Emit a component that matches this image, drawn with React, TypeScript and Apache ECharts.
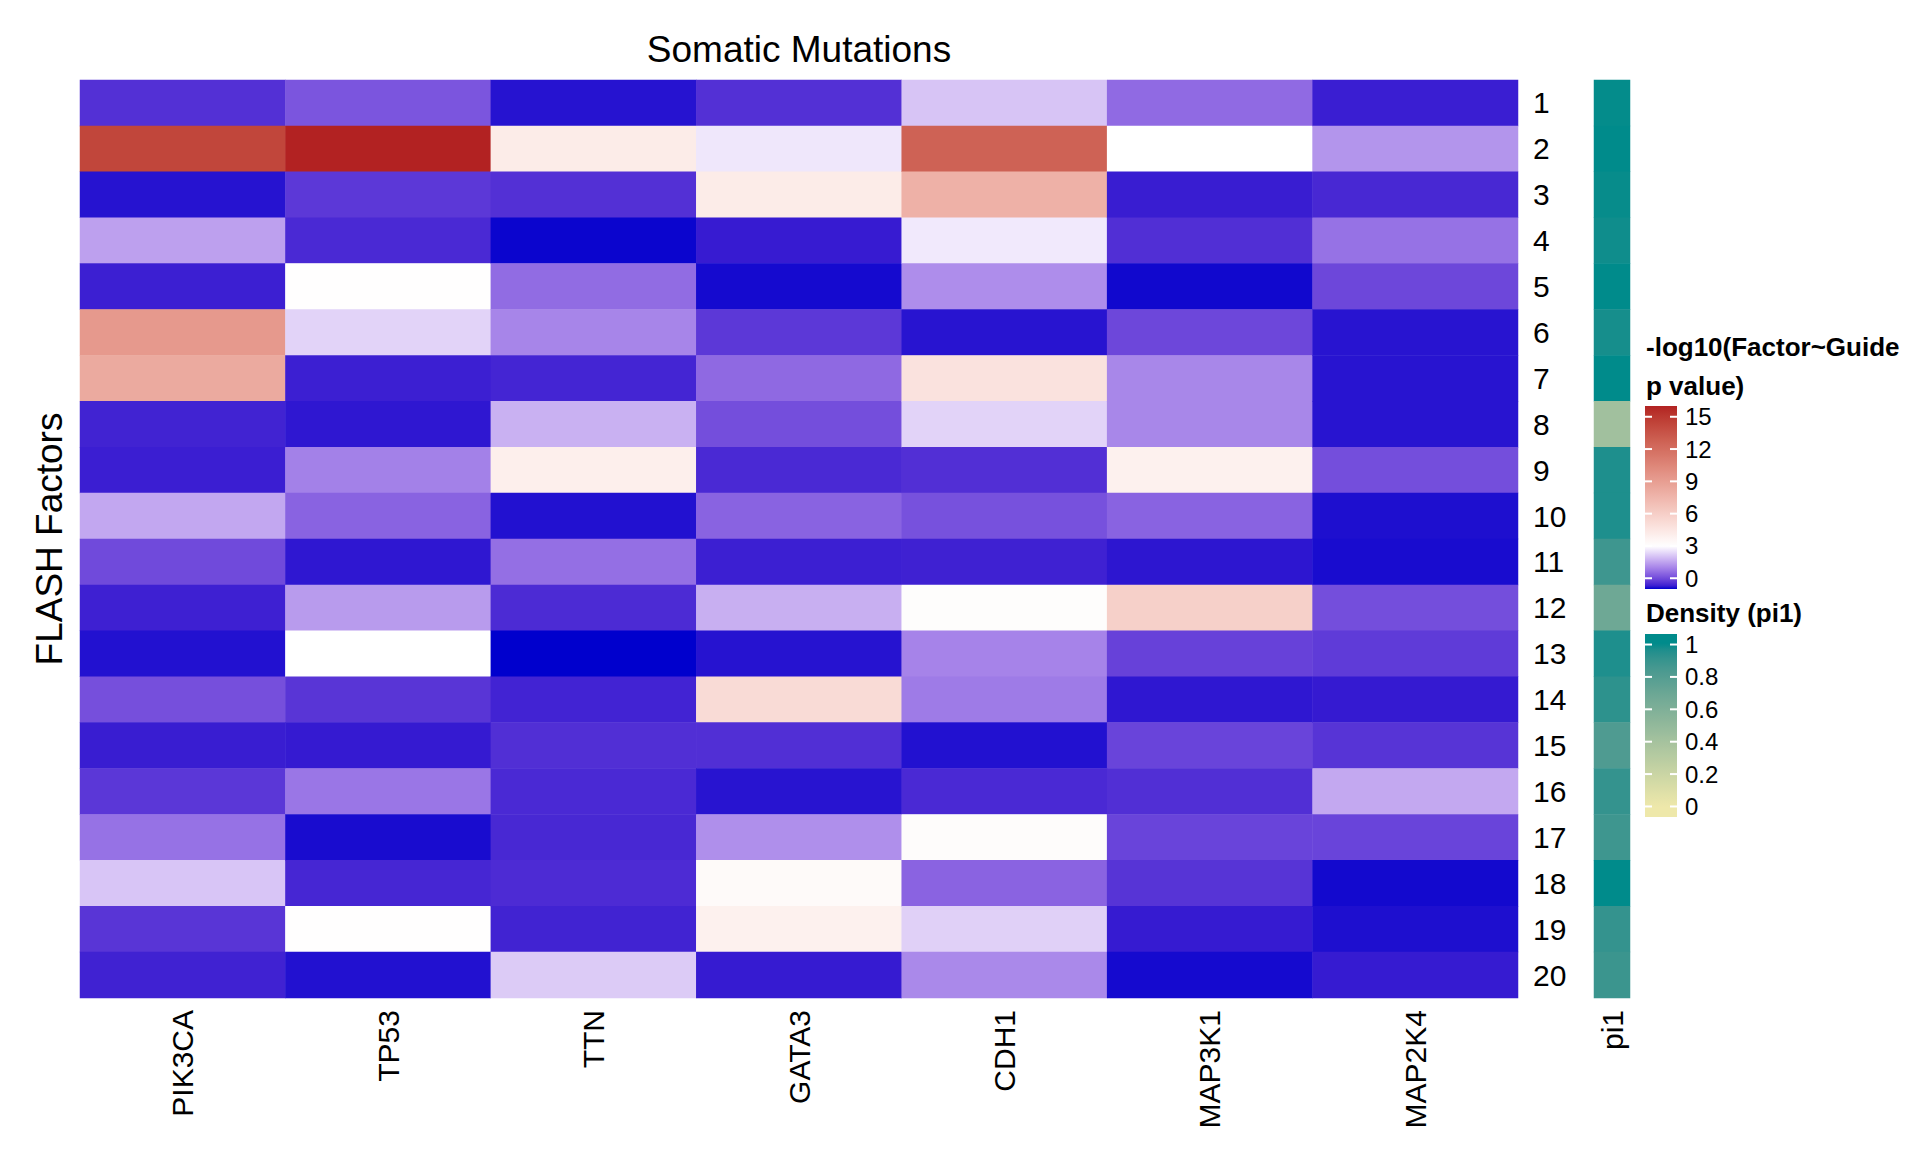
import React, { useEffect, useRef } from 'react';
import * as echarts from 'echarts';

const genes = ['PIK3CA', 'TP53', 'TTN', 'GATA3', 'CDH1', 'MAP3K1', 'MAP2K4'];
const factors = ['1', '2', '3', '4', '5', '6', '7', '8', '9', '10', '11', '12', '13', '14', '15', '16', '17', '18', '19', '20'];

// -log10 p values, rows = factors 1..20
const pik3ca = [-0.43, 14.3, -0.82, 1.45, -0.68, 9.3, 8.25, -0.63, -0.69, 1.56, -0.02, -0.66, -0.84, 0.08, -0.71, -0.33, 0.66, 2.07, -0.36, -0.64];
const tp53 = [0.17, 16.0, -0.31, -0.54, 3.05, 2.3, -0.68, -0.78, 0.92, 0.41, -0.78, 1.36, 3.0, -0.36, -0.75, 0.74, -0.88, -0.58, 3.05, -0.84];
const ttn = [-0.82, 4.2, -0.43, -0.95, 0.56, 1.0, -0.6, 1.73, 4.0, -0.84, 0.62, -0.52, -1.0, -0.62, -0.46, -0.54, -0.56, -0.51, -0.63, 2.17];
const gata3 = [-0.43, 2.62, 4.2, -0.73, -0.9, -0.31, 0.52, 0.05, -0.54, 0.41, -0.68, 1.7, -0.82, 5.16, -0.46, -0.81, 1.16, 3.3, 3.9, -0.74];
const cdh1 = [2.05, 12.7, 7.8, 2.65, 1.14, -0.81, 4.75, 2.3, -0.45, 0.1, -0.65, 3.15, 0.97, 0.82, -0.84, -0.54, 3.2, 0.42, 2.25, 1.07];
const map3k1 = [0.54, 3.0, -0.71, -0.46, -0.92, -0.06, 1.03, 1.03, 3.9, 0.41, -0.79, 5.9, -0.16, -0.78, -0.12, -0.46, -0.12, -0.38, -0.74, -0.9];
const map2k4 = [-0.7, 1.26, -0.56, 0.66, -0.06, -0.81, -0.81, -0.81, 0.05, -0.86, -0.88, 0.05, -0.27, -0.75, -0.38, 1.58, -0.12, -0.91, -0.86, -0.74];

// pi1 density per factor
const pi1 = [0.995, 1.0, 0.99, 0.98, 1.0, 0.97, 1.0, 0.42, 0.96, 0.96, 0.88, 0.68, 0.96, 0.93, 0.82, 0.91, 0.88, 1.0, 0.91, 0.89];

const pTicks = [0, 3, 6, 9, 12, 15];
const pi1Ticks = [0, 0.2, 0.4, 0.6, 0.8, 1];

// colour ramps, interpolated in Lab space
const toLin = (c: number) => {
  c /= 255;
  return c <= 0.04045 ? c / 12.92 : Math.pow((c + 0.055) / 1.055, 2.4);
};
const fromLin = (c: number) => {
  const v = c <= 0.0031308 ? 12.92 * c : 1.055 * Math.pow(Math.max(c, 0), 1 / 2.4) - 0.055;
  return Math.round(Math.min(1, Math.max(0, v)) * 255);
};
const hexToLab = (hex: string) => {
  const r = toLin(parseInt(hex.slice(1, 3), 16));
  const g = toLin(parseInt(hex.slice(3, 5), 16));
  const b = toLin(parseInt(hex.slice(5, 7), 16));
  const x = (0.4124 * r + 0.3576 * g + 0.1805 * b) / 0.95047;
  const y = 0.2126 * r + 0.7152 * g + 0.0722 * b;
  const z = (0.0193 * r + 0.1192 * g + 0.9505 * b) / 1.08883;
  const f = (t: number) => (t > 0.008856 ? Math.cbrt(t) : 7.787 * t + 16 / 116);
  const fx = f(x), fy = f(y), fz = f(z);
  return [116 * fy - 16, 500 * (fx - fy), 200 * (fy - fz)];
};
const labToHex = (lab: number[]) => {
  const fy = (lab[0] + 16) / 116;
  const fx = fy + lab[1] / 500;
  const fz = fy - lab[2] / 200;
  const inv = (t: number) => (t * t * t > 0.008856 ? t * t * t : (t - 16 / 116) / 7.787);
  const x = inv(fx) * 0.95047, y = inv(fy), z = inv(fz) * 1.08883;
  const r = 3.2406 * x - 1.5372 * y - 0.4986 * z;
  const g = -0.9689 * x + 1.8758 * y + 0.0415 * z;
  const b = 0.0557 * x - 0.204 * y + 1.057 * z;
  return '#' + [r, g, b].map((c) => fromLin(c).toString(16).padStart(2, '0')).join('');
};
const colorRamp = (breaks: number[], cols: string[]) => {
  const labs = cols.map(hexToLab);
  return (v: number) => {
    if (v <= breaks[0]) return cols[0];
    if (v >= breaks[breaks.length - 1]) return cols[cols.length - 1];
    let i = 0;
    while (v > breaks[i + 1]) i++;
    const t = (v - breaks[i]) / (breaks[i + 1] - breaks[i]);
    return labToHex(labs[i].map((c, k) => c + (labs[i + 1][k] - c) * t));
  };
};

const pMin = -1;
const pMax = 16;
const pCol = colorRamp([pMin, 3, pMax], ['#0000CD', '#FFFFFF', '#B22222']);
const piCol = colorRamp([0, 1], ['#EEE8AA', '#008B8B']);

const FONT = '"Liberation Sans", Arial, Helvetica, sans-serif';

const legendBar = (
  x: number, y: number, h: number, lo: number, hi: number,
  col: (v: number) => string, ticks: number[]
) => {
  const n = 60;
  const stops = [];
  for (let i = 0; i <= n; i++) {
    stops.push({ offset: i / n, color: col(hi - ((hi - lo) * i) / n) });
  }
  const els: any[] = [
    {
      type: 'rect',
      shape: { x, y, width: 32, height: h },
      style: { fill: new echarts.graphic.LinearGradient(0, 0, 0, 1, stops) },
    },
  ];
  ticks.forEach((t) => {
    const ty = y + ((hi - t) / (hi - lo)) * h;
    els.push({ type: 'line', shape: { x1: x, y1: ty, x2: x + 7, y2: ty }, style: { stroke: '#fff', lineWidth: 2 } });
    els.push({ type: 'line', shape: { x1: x + 25, y1: ty, x2: x + 32, y2: ty }, style: { stroke: '#fff', lineWidth: 2 } });
    els.push({
      type: 'text',
      x: x + 40,
      y: ty,
      style: { text: String(t), fontSize: 24, fontFamily: FONT, fill: '#000', align: 'left', verticalAlign: 'middle' },
    });
  });
  return els;
};

export default function App() {
  const ref = useRef<HTMLDivElement>(null);

  useEffect(() => {
    document.body.style.margin = '0';
    document.body.style.overflow = 'hidden';
    const chart = echarts.init(ref.current, undefined, { renderer: 'svg' });

    const geneValues = [pik3ca, tp53, ttn, gata3, cdh1, map3k1, map2k4];
    const mainData: number[][] = [];
    geneValues.forEach((vals, gi) => vals.forEach((v, ri) => mainData.push([gi, ri, v])));
    const piData = pi1.map((v, ri) => [0, ri, v]);

    const pStops = Array.from({ length: 69 }, (_, i) => pCol(pMin + ((pMax - pMin) * i) / 68));
    const piStops = Array.from({ length: 21 }, (_, i) => piCol(i / 20));

    const catAxis = {
      type: 'category',
      axisLine: { show: false },
      axisTick: { show: false },
      splitLine: { show: false },
      splitArea: { show: false },
    };

    const option = {
      animation: false,
      backgroundColor: '#fff',
      grid: [
        { left: 80, top: 80, width: 1438, height: 918 },
        { left: 1594, top: 80, width: 36, height: 918 },
      ],
      xAxis: [
        {
          ...catAxis,
          gridIndex: 0,
          data: genes,
          axisLabel: { rotate: 90, fontSize: 30, margin: 12, color: '#000', fontFamily: FONT },
        },
        {
          ...catAxis,
          gridIndex: 1,
          data: ['pi1'],
          axisLabel: { rotate: 90, fontSize: 30, margin: 12, color: '#000', fontFamily: FONT },
        },
      ],
      yAxis: [
        {
          ...catAxis,
          gridIndex: 0,
          data: factors,
          inverse: true,
          position: 'right',
          axisLabel: { fontSize: 30, margin: 15, color: '#000', fontFamily: FONT },
        },
        { ...catAxis, gridIndex: 1, data: factors, inverse: true, show: false },
      ],
      visualMap: [
        { type: 'continuous', show: false, seriesIndex: 0, min: pMin, max: pMax, inRange: { color: pStops } },
        { type: 'continuous', show: false, seriesIndex: 1, min: 0, max: 1, inRange: { color: piStops } },
      ],
      series: [
        {
          type: 'heatmap',
          xAxisIndex: 0,
          yAxisIndex: 0,
          data: mainData,
          itemStyle: { borderWidth: 0 },
          emphasis: { disabled: true },
        },
        {
          type: 'heatmap',
          xAxisIndex: 1,
          yAxisIndex: 1,
          data: piData,
          itemStyle: { borderWidth: 0 },
          emphasis: { disabled: true },
        },
      ],
      graphic: [
        {
          type: 'text',
          x: 799,
          y: 49,
          style: { text: 'Somatic Mutations', fontSize: 37, fontFamily: FONT, fill: '#000', align: 'center', verticalAlign: 'middle' },
        },
        {
          type: 'text',
          x: 49,
          y: 539,
          rotation: Math.PI / 2,
          style: { text: 'FLASH Factors', fontSize: 37, fontFamily: FONT, fill: '#000', align: 'center', verticalAlign: 'middle' },
        },
        {
          type: 'text',
          x: 1646,
          y: 347,
          style: { text: '-log10(Factor~Guide', fontSize: 26, fontWeight: 'bold', fontFamily: FONT, fill: '#000', align: 'left', verticalAlign: 'middle' },
        },
        {
          type: 'text',
          x: 1646,
          y: 386,
          style: { text: 'p value)', fontSize: 26, fontWeight: 'bold', fontFamily: FONT, fill: '#000', align: 'left', verticalAlign: 'middle' },
        },
        ...legendBar(1645, 406, 183, pMin, pMax, pCol, pTicks),
        {
          type: 'text',
          x: 1646,
          y: 613,
          style: { text: 'Density (pi1)', fontSize: 26, fontWeight: 'bold', fontFamily: FONT, fill: '#000', align: 'left', verticalAlign: 'middle' },
        },
        ...legendBar(1645, 634, 183, -0.065, 1.065, piCol, pi1Ticks),
      ],
    };

    chart.setOption(option as any);
    return () => chart.dispose();
  }, []);

  return <div ref={ref} style={{ width: 1920, height: 1152 }} />;
}
